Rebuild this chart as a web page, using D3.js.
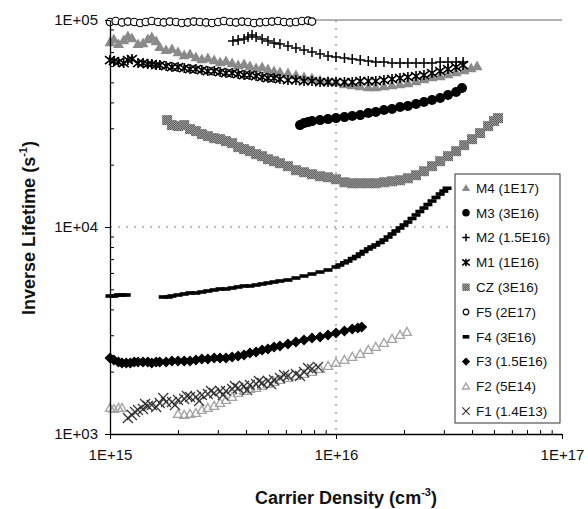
<!DOCTYPE html>
<html>
<head>
<meta charset="utf-8">
<script src="https://cdn.jsdelivr.net/npm/d3@7"></script>
<style>
  body { margin: 0; background: #fff; }
  svg { display: block; font-family: "Liberation Sans", Arial, sans-serif; }
</style>
</head>
<body>
<svg id="chart" width="588" height="509"></svg>
<script>
// values, [carrier density (cm^-3), inverse lifetime (s^-1)]
const m4 = [[1.00e15,78290],[1.04e15,80940],[1.09e15,76570],[1.15e15,80050],[1.20e15,83690],[1.25e15,81850],[1.33e15,76570],[1.40e15,77420],[1.47e15,80940],[1.53e15,82760],
  [1.60e15,79160],[1.66e15,74060],[1.77e15,71630],[1.88e15,72430],[2.00e15,70050],[2.13e15,67750],[2.26e15,68510],[2.40e15,66260],[2.55e15,64800],[2.71e15,65520],
  [2.89e15,64080],[3.07e15,62670],[3.26e15,63370],[3.47e15,61970],[3.69e15,60610],[3.92e15,61290],[4.16e15,59940],[4.43e15,58620],[4.71e15,59280],[5.00e15,57970],
  [5.32e15,56690],[5.65e15,56060],[6.13e15,55440],[6.65e15,54220],[7.22e15,53030],[7.83e15,52440],[8.50e15,51280],[9.22e15,50710],[1.00e16,50150],[1.09e16,49050],
  [1.18e16,48500],[1.28e16,47970],[1.39e16,47440],[1.50e16,47440],[1.63e16,47970],[1.77e16,48500],[1.92e16,49050],[2.08e16,49600],[2.26e16,50710],[2.45e16,51860],
  [2.66e16,53030],[2.89e16,53620],[3.13e16,54830],[3.40e16,56060],[3.69e16,57330],[3.96e16,58620],[4.21e16,59940]];

const m3 = [[6.93e15,31060],[7.22e15,31760],[7.52e15,32120],[7.83e15,32480],[8.50e15,32840],[9.22e15,33210],[1.00e16,33580],[1.09e16,33960],[1.18e16,34340],[1.28e16,34720],
  [1.39e16,35510],[1.50e16,35910],[1.63e16,36720],[1.77e16,37130],[1.92e16,37960],[2.08e16,38390],[2.26e16,39250],[2.45e16,40140],[2.66e16,41040],[2.89e16,41970],
  [3.13e16,43390],[3.40e16,44870],[3.61e16,46910]];

const m2 = [[3.50e15,79160],[3.69e15,80050],[3.92e15,80940],[4.08e15,82760],[4.25e15,84630],[4.43e15,82760],[4.71e15,80940],[5.00e15,79160],[5.32e15,77420],[5.65e15,76570],
  [6.13e15,74890],[6.65e15,73240],[7.22e15,71630],[7.83e15,70050],[8.50e15,68510],[9.22e15,67000],[1.00e16,66260],[1.09e16,65520],[1.18e16,64800],[1.28e16,64080],
  [1.39e16,63370],[1.50e16,62670],[1.63e16,62670],[1.77e16,61970],[1.92e16,61970],[2.08e16,61970],[2.26e16,61970],[2.45e16,61970],[2.66e16,61970],[2.89e16,62670],
  [3.13e16,62670],[3.40e16,62670],[3.65e16,62670]];

const m1 = [[1.00e15,64080],[1.04e15,63370],[1.09e15,62670],[1.15e15,61970],[1.20e15,64080],[1.25e15,64800],[1.33e15,61970],[1.40e15,61970],[1.47e15,61290],[1.53e15,61290],
  [1.60e15,60610],[1.66e15,60610],[1.77e15,59940],[1.88e15,59280],[2.00e15,59280],[2.13e15,58620],[2.26e15,57970],[2.40e15,57970],[2.55e15,57330],[2.71e15,56690],
  [2.89e15,56690],[3.07e15,56060],[3.26e15,55440],[3.47e15,55440],[3.69e15,54830],[3.92e15,54220],[4.16e15,54220],[4.43e15,53620],[4.71e15,53030],[5.00e15,52440],
  [5.32e15,52440],[5.65e15,51860],[6.13e15,51280],[6.65e15,51280],[7.22e15,50710],[7.83e15,50710],[8.50e15,50150],[9.22e15,50150],[1.00e16,50150],[1.09e16,50150],
  [1.18e16,50150],[1.28e16,50710],[1.39e16,50710],[1.50e16,50710],[1.63e16,51280],[1.77e16,51860],[1.92e16,52440],[2.08e16,53030],[2.26e16,53620],[2.45e16,54220],
  [2.66e16,55440],[2.89e16,56690],[3.13e16,57970],[3.40e16,59280],[3.65e16,60610]];

const cz = [[1.79e15,32840],[1.88e15,31060],[2.00e15,30720],[2.13e15,31060],[2.26e15,29710],[2.40e15,29050],[2.55e15,28100],[2.71e15,27480],[2.89e15,26870],[3.07e15,26570],
  [3.26e15,25990],[3.47e15,25410],[3.69e15,24310],[3.92e15,23770],[4.16e15,23250],[4.43e15,22480],[4.71e15,21990],[5.00e15,21260],[5.32e15,20790],[5.65e15,20330],
  [6.13e15,19670],[6.65e15,18810],[7.22e15,18390],[7.83e15,17990],[8.50e15,17590],[9.22e15,17390],[1.00e16,17010],[1.09e16,16450],[1.18e16,16270],[1.28e16,16270],
  [1.39e16,16270],[1.50e16,16270],[1.63e16,16450],[1.77e16,16630],[1.92e16,16820],[2.08e16,17200],[2.26e16,17790],[2.45e16,18600],[2.66e16,19670],[2.89e16,20790],
  [3.13e16,21990],[3.40e16,23250],[3.69e16,24850],[4.00e16,26570],[4.34e16,28410],[4.71e16,30720],[5.00e16,32480],[5.21e16,33580]];

const f5 = [[1.00e15,97800],[1.06e15,98900],[1.13e15,97300],[1.20e15,98300],[1.28e15,97800],[1.36e15,96700],[1.44e15,97800],[1.53e15,98900],[1.63e15,97800],[1.73e15,97300],
  [1.84e15,98300],[1.96e15,97800],[2.08e15,96700],[2.21e15,97300],[2.35e15,98300],[2.50e15,97800],[2.66e15,97300],[2.83e15,96700],[3.01e15,97800],[3.19e15,98900],
  [3.40e15,97800],[3.61e15,97300],[3.84e15,98300],[4.08e15,97800],[4.34e15,96700],[4.61e15,97300],[4.90e15,97800],[5.21e15,98300],[5.54e15,98900],[5.89e15,97800],
  [6.26e15,97300],[6.65e15,97800],[7.07e15,98900],[7.52e15,99400],[7.83e15,98300]];

const f4 = [[1.00e15,4642],[1.04e15,4642],[1.09e15,4694],[1.13e15,4694],[1.18e15,4694],
  [1.72e15,4591],[1.81e15,4591],[1.88e15,4642],[2.00e15,4694],[2.13e15,4747],[2.26e15,4800],[2.40e15,4800],[2.55e15,4853],[2.71e15,4908],[2.89e15,4963],
  [3.07e15,5018],[3.26e15,5018],[3.47e15,5074],[3.69e15,5131],[3.92e15,5188],[4.16e15,5188],[4.43e15,5246],[4.71e15,5304],[5.00e15,5364],[5.32e15,5424],
  [5.65e15,5485],[6.13e15,5546],[6.65e15,5670],[7.22e15,5797],[7.83e15,5928],[8.50e15,6061],[9.22e15,6199],[1.00e16,6411],[1.04e16,6553],[1.09e16,6715],
  [1.13e16,6849],[1.18e16,7040],[1.23e16,7203],[1.28e16,7405],[1.33e16,7614],[1.39e16,7831],[1.44e16,8006],[1.50e16,8185],[1.57e16,8415],[1.63e16,8653],
  [1.70e16,8946],[1.77e16,9252],[1.84e16,9565],[1.92e16,9890],[2.00e16,10225],[2.08e16,10570],[2.17e16,10990],[2.26e16,11430],[2.35e16,11880],[2.45e16,12350],
  [2.55e16,12840],[2.66e16,13350],[2.77e16,13890],[2.89e16,14430],[3.00e16,14920],[3.10e16,15390]];

const f3 = [[1.00e15,2329],[1.04e15,2278],[1.09e15,2227],[1.13e15,2203],[1.18e15,2203],[1.23e15,2203],[1.28e15,2227],[1.33e15,2227],[1.40e15,2227],[1.47e15,2227],
  [1.53e15,2203],[1.60e15,2227],[1.66e15,2227],[1.77e15,2227],[1.88e15,2253],[2.00e15,2253],[2.13e15,2253],[2.26e15,2253],[2.40e15,2278],[2.55e15,2303],
  [2.71e15,2303],[2.89e15,2329],[3.07e15,2329],[3.26e15,2329],[3.47e15,2355],[3.69e15,2382],[3.92e15,2408],[4.16e15,2463],[4.43e15,2490],[4.71e15,2546],
  [5.00e15,2575],[5.32e15,2632],[5.65e15,2662],[6.13e15,2722],[6.65e15,2783],[7.22e15,2846],[7.83e15,2910],[8.50e15,2942],[9.22e15,3008],[1.00e16,3075],
  [1.09e16,3145],[1.18e16,3215],[1.25e16,3251],[1.30e16,3288]];

const f2 = [[1.00e15,1335],[1.04e15,1320],[1.09e15,1335],[1.13e15,1335],
  [2.00e15,1249],[2.13e15,1235],[2.26e15,1249],[2.40e15,1263],[2.55e15,1306],[2.71e15,1335],[2.89e15,1366],[3.07e15,1412],[3.26e15,1460],[3.47e15,1510],
  [3.69e15,1578],[3.92e15,1614],[4.16e15,1650],[4.43e15,1668],[4.71e15,1706],[5.00e15,1744],[5.32e15,1784],[5.65e15,1824],[6.13e15,1865],[6.65e15,1906],
  [7.22e15,1949],[7.83e15,1993],[8.50e15,2061],[9.22e15,2131],[1.00e16,2203],[1.09e16,2278],[1.18e16,2355],[1.28e16,2435],[1.39e16,2546],[1.50e16,2632],
  [1.63e16,2752],[1.77e16,2878],[1.92e16,3008],[2.06e16,3110]];

const f1 = [[1.20e15,1195],[1.25e15,1235],[1.29e15,1277],[1.33e15,1306],[1.40e15,1320],[1.43e15,1396],[1.47e15,1366],[1.53e15,1381],[1.60e15,1350],[1.66e15,1412],
  [1.72e15,1493],[1.77e15,1428],[1.88e15,1428],[1.94e15,1381],[2.00e15,1460],[2.13e15,1476],[2.19e15,1526],[2.26e15,1510],[2.40e15,1510],[2.48e15,1444],
  [2.55e15,1543],[2.71e15,1561],[2.80e15,1614],[2.89e15,1578],[3.07e15,1614],[3.16e15,1543],[3.26e15,1614],[3.47e15,1650],[3.57e15,1706],[3.69e15,1668],
  [3.92e15,1706],[4.04e15,1632],[4.16e15,1725],[4.43e15,1744],[4.56e15,1804],[4.71e15,1764],[5.00e15,1804],[5.16e15,1744],[5.32e15,1824],[5.65e15,1865],
  [5.89e15,1927],[6.13e15,1906],[6.65e15,1949],[6.93e15,1906],[7.22e15,1993],[7.52e15,2084],[7.83e15,2061],[8.33e15,2107]];

const seriesNames = ["M4 (1E17)", "M3 (3E16)", "M2 (1.5E16)", "M1 (1E16)", "CZ (3E16)",
                     "F5 (2E17)", "F4 (3E16)", "F3 (1.5E16)", "F2 (5E14)", "F1 (1.4E13)"];
const seriesData = [m4, m3, m2, m1, cz, f5, f4, f3, f2, f1];

const xTicks = [1e15, 1e16, 1e17];
const yTicks = [1e3, 1e4, 1e5];

// marker look per series (same order as the names)
const styles = [
    { shape: "tri",     size: 11, fill: "#8a8a8a", stroke: "none" },
    { shape: "circle",  size: 10, fill: "#000",    stroke: "none" },
    { shape: "plus",    size: 10, fill: "none",    stroke: "#000", sw: 1.5 },
    { shape: "star",    size: 10, fill: "none",    stroke: "#000", sw: 1.6 },
    { shape: "square",  size: 10, fill: "url(#czPat)", stroke: "none" },
    { shape: "circle",  size: 7.5, fill: "#fff",   stroke: "#000", sw: 1.2 },
    { shape: "dash",    size: 9,  fill: "#000",    stroke: "none" },
    { shape: "diamond", size: 11, fill: "#000",    stroke: "none" },
    { shape: "tri",     size: 9,  fill: "none",    stroke: "#a4a4a4", sw: 1.4 },
    { shape: "cross",   size: 10, fill: "none",    stroke: "#333", sw: 1.2 }
];

function markerPath(shape, s) {
    const h = s / 2;
    switch (shape) {
        case "tri":     return `M0,${-h}L${h},${h * 0.75}L${-h},${h * 0.75}Z`;
        case "plus":    return `M${-h},0H${h}M0,${-h}V${h}`;
        case "star":    return `M${-h},${-h * 0.8}L${h},${h * 0.8}M${h},${-h * 0.8}L${-h},${h * 0.8}M0,${-h}V${h}`;
        case "cross":   return `M${-h},${-h}L${h},${h}M${h},${-h}L${-h},${h}`;
        case "diamond": return `M0,${-h}L${h},0L0,${h}L${-h},0Z`;
        case "square":  return `M${-h},${-h}h${s}v${s}h${-s}Z`;
        case "dash":    return `M${-h},-1.8h${s}v3.6h${-s}Z`;
        case "circle":  return d3.symbol().type(d3.symbolCircle).size(Math.PI * h * h)();
    }
}

const width = 588, height = 509;
const x = d3.scaleLog().domain([1e15, 1e17]).range([110, 562]);
const y = d3.scaleLog().domain([1e3, 1e5]).range([434, 20]);

const svg = d3.select("#chart");

// stippled fill for the CZ squares
const pat = svg.append("defs").append("pattern")
    .attr("id", "czPat").attr("patternUnits", "userSpaceOnUse")
    .attr("width", 2).attr("height", 2);
pat.append("rect").attr("width", 2).attr("height", 2).attr("fill", "#b0b0b0");
pat.append("rect").attr("width", 1).attr("height", 1).attr("fill", "#4a4a4a");
pat.append("rect").attr("x", 1).attr("y", 1).attr("width", 1).attr("height", 1).attr("fill", "#4a4a4a");

// gridlines
svg.append("line")
    .attr("x1", x(1e16)).attr("x2", x(1e16)).attr("y1", y(1e5)).attr("y2", y(1e3))
    .attr("stroke", "#777").attr("stroke-dasharray", "2,6");
svg.append("line")
    .attr("x1", x(1e15)).attr("x2", x(1e17)).attr("y1", y(1e4)).attr("y2", y(1e4))
    .attr("stroke", "#777").attr("stroke-dasharray", "2,6");
svg.append("line")
    .attr("x1", x(1e15)).attr("x2", x(1e17)).attr("y1", y(1e5)).attr("y2", y(1e5))
    .attr("stroke", "#666").attr("stroke-width", 1.2);

const fmt = d => "1E+" + String(Math.round(Math.log10(d))).padStart(2, "0");

// minor ticks inside
const minorX = [], minorY = [];
[1e15, 1e16].forEach(b => d3.range(2, 10).forEach(k => minorX.push(b * k)));
[1e3, 1e4].forEach(b => d3.range(2, 10).forEach(k => minorY.push(b * k)));

svg.append("g").attr("transform", `translate(0,${y(1e3)})`)
    .call(d3.axisBottom(x).tickValues(minorX).tickSize(-4).tickFormat(""))
    .call(g => g.select(".domain").remove())
    .call(g => g.selectAll("line").attr("stroke", "#000"));
svg.append("g").attr("transform", `translate(${x(1e15)},0)`)
    .call(d3.axisLeft(y).tickValues(minorY).tickSize(-4).tickFormat(""))
    .call(g => g.select(".domain").remove())
    .call(g => g.selectAll("line").attr("stroke", "#000"));

// series
seriesData.forEach((data, i) => {
    const st = styles[i];
    svg.append("g")
        .selectAll("path")
        .data(data)
        .enter().append("path")
        .attr("transform", d => `translate(${x(d[0])},${y(d[1])})`)
        .attr("d", markerPath(st.shape, st.size))
        .attr("fill", st.fill)
        .attr("stroke", st.stroke)
        .attr("stroke-width", st.sw || 0);
});

// main axes
const xAxis = svg.append("g").attr("transform", `translate(0,${y(1e3)})`)
    .call(d3.axisBottom(x).tickValues(xTicks).tickFormat(fmt).tickSize(5).tickPadding(10).tickSizeOuter(0));
const yAxis = svg.append("g").attr("transform", `translate(${x(1e15)},0)`)
    .call(d3.axisLeft(y).tickValues(yTicks).tickFormat(fmt).tickSize(5).tickPadding(7).tickSizeOuter(0));
[xAxis, yAxis].forEach(g => {
    g.select(".domain").attr("stroke", "#000").attr("stroke-width", 1.3);
    g.selectAll("line").attr("stroke", "#000");
    g.selectAll("text").attr("font-size", 15).attr("fill", "#111")
        .style("font-family", '"Liberation Sans", Arial, sans-serif');
});

// legend
const lg = svg.append("g");
lg.append("rect")
    .attr("x", 455).attr("y", 174).attr("width", 105).attr("height", 249)
    .attr("fill", "#fff").attr("stroke", "#333").attr("stroke-width", 1);
seriesNames.forEach((name, i) => {
    const st = styles[i];
    const cy = 188 + i * 24.8;
    lg.append("path")
        .attr("transform", `translate(466,${cy})`)
        .attr("d", markerPath(st.shape, st.size * 0.75))
        .attr("fill", st.fill)
        .attr("stroke", st.stroke)
        .attr("stroke-width", st.sw || 0);
    lg.append("text")
        .attr("x", 476).attr("y", cy).attr("dy", "0.36em")
        .attr("font-size", 13.5).attr("fill", "#111")
        .text(name);
});

// axis titles
const xt = svg.append("text")
    .attr("x", 346).attr("y", 504)
    .attr("text-anchor", "middle")
    .attr("font-size", 18).attr("font-weight", "bold").attr("fill", "#111");
xt.append("tspan").text("Carrier Density (cm");
xt.append("tspan").attr("font-size", 11).attr("dy", -8).text("-3");
xt.append("tspan").attr("dy", 8).text(")");

const yt = svg.append("text")
    .attr("transform", "translate(35,228) rotate(-90)")
    .attr("text-anchor", "middle")
    .attr("font-size", 18).attr("font-weight", "bold").attr("fill", "#111");
yt.append("tspan").text("Inverse Lifetime (s");
yt.append("tspan").attr("font-size", 11).attr("dy", -8).text("-1");
yt.append("tspan").attr("dy", 8).text(")");
</script>
</body>
</html>
